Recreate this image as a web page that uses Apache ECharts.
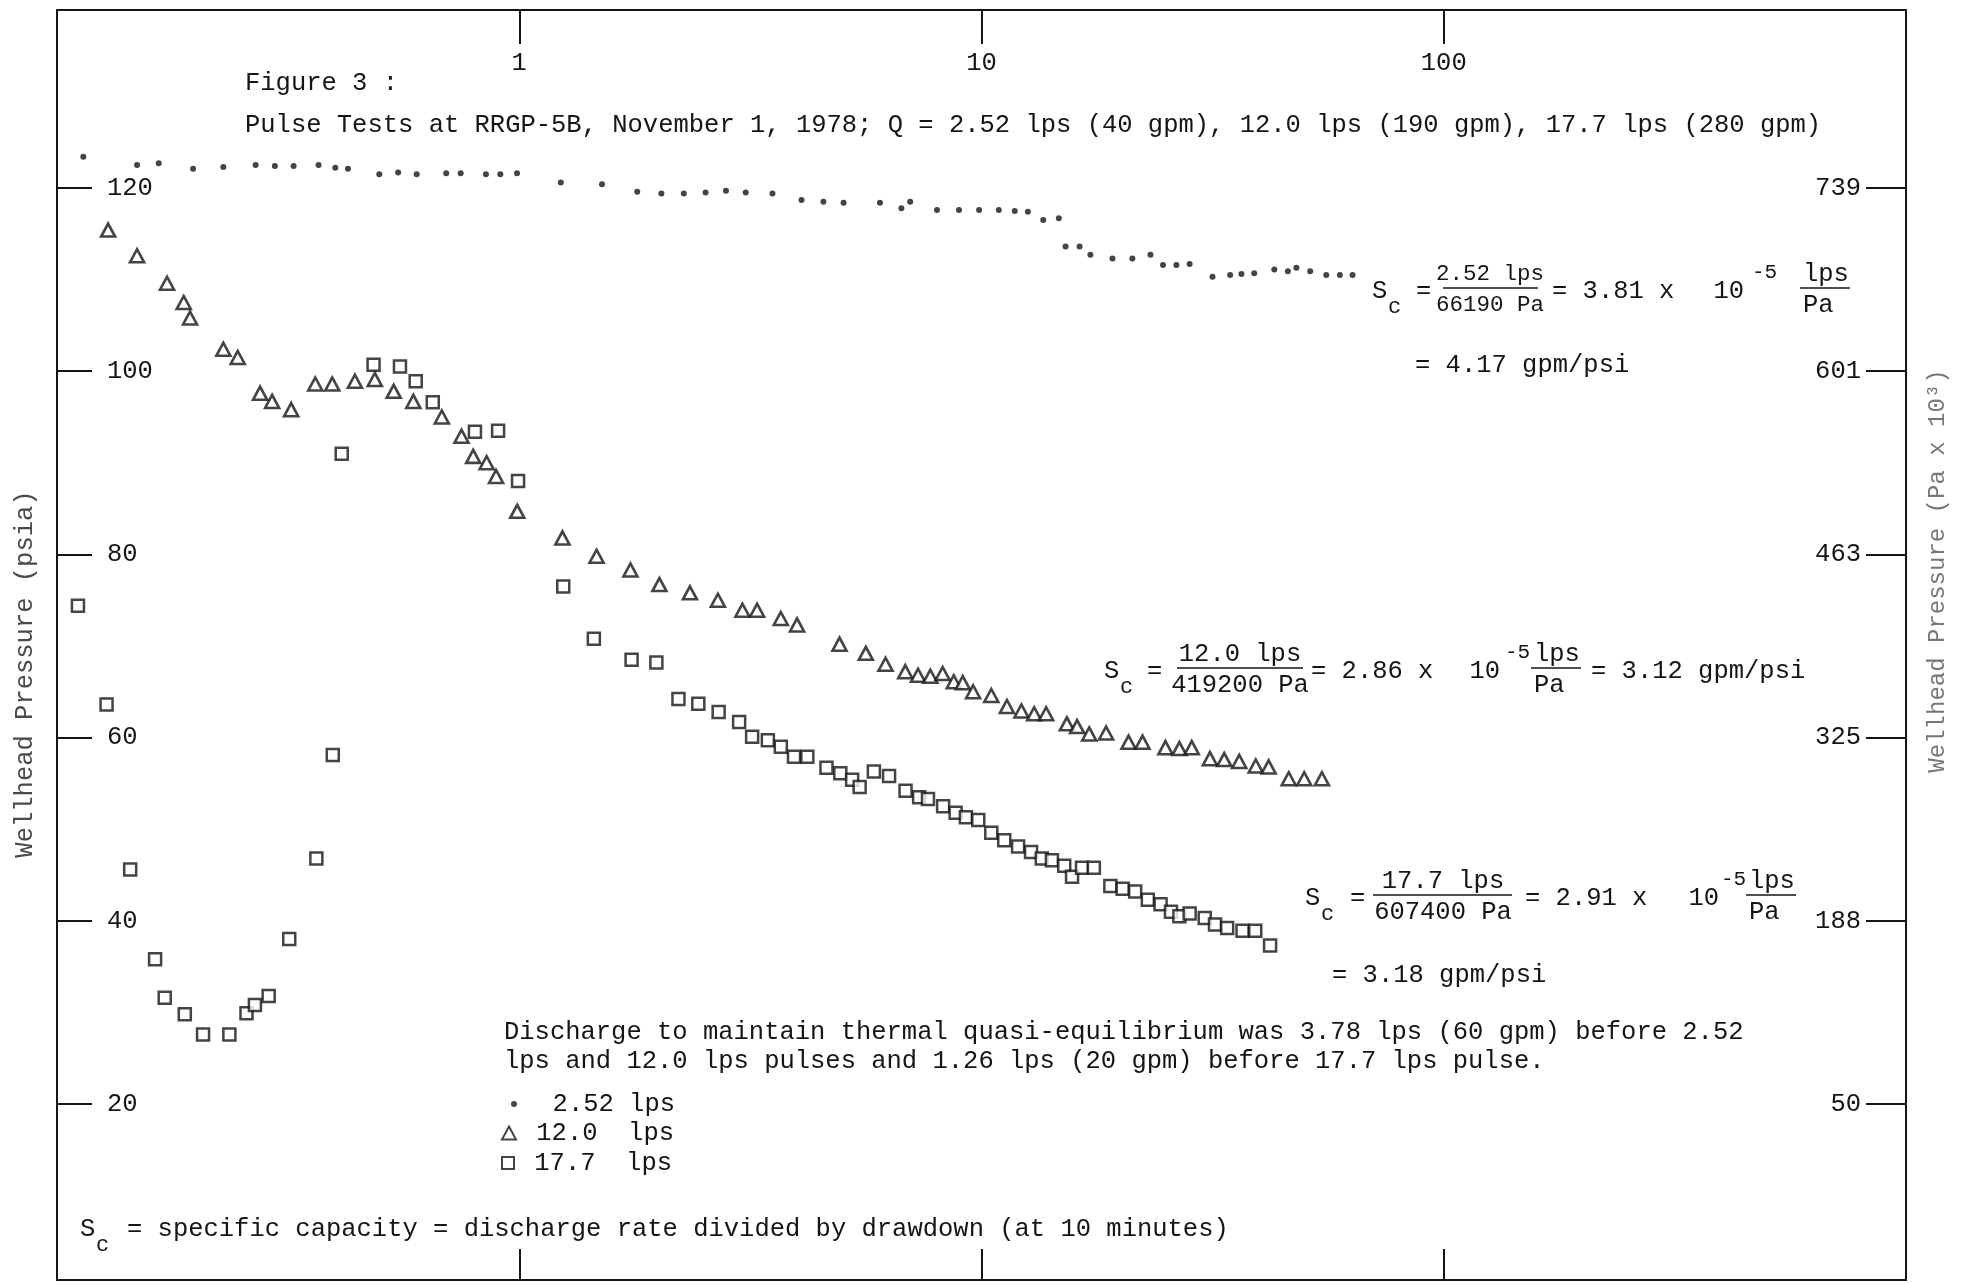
<!DOCTYPE html>
<html>
<head>
<meta charset="utf-8">
<script src="https://cdn.jsdelivr.net/npm/echarts@6/dist/echarts.min.js"></script>
<style>
  html, body { margin: 0; padding: 0; background: #ffffff; }
  #chart { width: 1967px; height: 1285px; }
</style>
</head>
<body>
<div id="chart"></div>
<script>
// Elapsed time (minutes) and wellhead pressure (psia) for each discharge pulse
const dotTime = [0.114, 0.149, 0.166, 0.197, 0.229, 0.269, 0.296, 0.325, 0.368, 0.400,
  0.426, 0.498, 0.547, 0.600, 0.695, 0.747, 0.847, 0.910, 0.989, 1.23,
  1.51, 1.80, 2.03, 2.27, 2.53, 2.80, 3.09, 3.53, 4.08, 4.55,
  5.03, 6.03, 6.71, 7.01, 8.01, 8.94, 9.88, 10.9, 11.8, 12.6,
  13.6, 14.7, 15.2, 16.3, 17.2, 19.2, 21.2, 23.2, 24.7, 26.4,
  28.2, 31.6, 34.5, 36.5, 38.9, 43.0, 46.0, 48.0, 51.4, 55.7, 59.6, 63.5];
const dotPsia = [123.4, 122.5, 122.7, 122.1, 122.3, 122.5, 122.4, 122.4, 122.5, 122.2,
  122.1, 121.5, 121.7, 121.5, 121.6, 121.6, 121.5, 121.5, 121.6, 120.6,
  120.4, 119.6, 119.4, 119.4, 119.5, 119.7, 119.5, 119.4, 118.7, 118.5,
  118.4, 118.4, 117.8, 118.5, 117.6, 117.6, 117.6, 117.6, 117.5, 117.4,
  116.5, 116.7, 113.6, 113.6, 112.7, 112.3, 112.3, 112.7, 111.6, 111.6,
  111.7, 110.3, 110.5, 110.6, 110.7, 111.1, 110.9, 111.3, 110.9, 110.5, 110.5, 110.5];

const triTime = [0.129, 0.149, 0.173, 0.188, 0.194, 0.229, 0.246, 0.275, 0.292, 0.321,
  0.362, 0.394, 0.441, 0.487, 0.535, 0.590, 0.680, 0.750, 0.795, 0.850,
  0.891, 0.990, 1.24, 1.47, 1.74, 2.01, 2.34, 2.69, 3.04, 3.27,
  3.68, 3.99, 4.93, 5.62, 6.20, 6.84, 7.29, 7.75, 8.24, 8.71,
  9.11, 9.59, 10.5, 11.35, 12.2, 13.0, 13.8, 15.3, 16.1, 17.1,
  18.6, 20.8, 22.3, 25.0, 26.8, 28.5, 31.2, 33.5, 36.1, 39.2,
  41.8, 46.2, 49.9, 54.5];
const triPsia = [115.4, 112.6, 109.6, 107.5, 105.8, 102.4, 101.5, 97.6, 96.7, 95.8,
  98.6, 98.6, 98.9, 99.1, 97.8, 96.7, 95.0, 92.9, 90.7, 90.0,
  88.5, 84.7, 81.8, 79.8, 78.3, 76.7, 75.8, 75.0, 73.9, 73.9,
  73.0, 72.3, 70.2, 69.2, 68.0, 67.2, 66.8, 66.7, 67.0, 66.1,
  66.0, 65.0, 64.6, 63.4, 62.9, 62.6, 62.6, 61.5, 61.2, 60.4,
  60.5, 59.5, 59.5, 58.9, 58.8, 58.9, 57.7, 57.6, 57.4, 56.9,
  56.8, 55.5, 55.5, 55.5];

const sqTime = [0.111, 0.128, 0.144, 0.163, 0.171, 0.189, 0.207, 0.236, 0.257, 0.268,
  0.287, 0.318, 0.364, 0.395, 0.413, 0.484, 0.552, 0.597, 0.650, 0.802,
  0.900, 0.994, 1.245, 1.45, 1.75, 1.98, 2.21, 2.44, 2.70, 2.99,
  3.19, 3.45, 3.68, 3.93, 4.20, 4.62, 4.95, 5.25, 5.45, 5.85,
  6.31, 6.85, 7.33, 7.66, 8.26, 8.79, 9.25, 9.84, 10.5, 11.2,
  12.0, 12.8, 13.5, 14.2, 15.1, 15.7, 16.5, 17.5, 19.0, 20.2,
  21.5, 22.9, 24.4, 25.7, 26.8, 28.2, 30.4, 32.0, 34.0, 36.7,
  39.1, 42.1];
const sqPsia = [74.4, 63.6, 45.6, 35.8, 31.6, 29.8, 27.6, 27.6, 29.9, 30.8,
  31.8, 38.0, 46.8, 58.1, 91.0, 100.7, 100.5, 98.9, 96.6, 93.4,
  93.5, 88.0, 76.5, 70.8, 68.5, 68.2, 64.2, 63.7, 62.8, 61.7,
  60.1, 59.7, 59.0, 57.9, 57.9, 56.7, 56.1, 55.4, 54.6, 56.3,
  55.8, 54.2, 53.5, 53.3, 52.5, 51.8, 51.3, 51.0, 49.6, 48.8,
  48.1, 47.5, 46.8, 46.6, 46.0, 44.8, 45.8, 45.8, 43.8, 43.5,
  43.2, 42.3, 41.8, 41.0, 40.5, 40.8, 40.3, 39.6, 39.2, 38.9,
  38.9, 37.3];

const seriesNames = ['2.52 lps', '12.0 lps', '17.7 lps'];
const legendLabels = ['  2.52 lps', ' 12.0  lps', ' 17.7  lps'];
const timeTicks = [1, 10, 100];
const psiaTicks = [20, 40, 60, 80, 100, 120];
const paTickLabels = ['50', '188', '325', '463', '601', '739'];

const INK = '#151515';
const FAMILY = '"Liberation Mono", "DejaVu Sans Mono", monospace';
const FS = 25.5;

const zip = (xs, ys) => xs.map((x, i) => [x, ys[i]]);

// small helpers for the annotation text and fraction bars
function txt(x, y, s, o) {
  o = o || {};
  return {
    type: 'text', x: x, y: y, rotation: o.rot || 0, silent: true, z: 10,
    style: {
      text: s,
      font: (o.size || FS) + 'px ' + FAMILY,
      fill: o.fill || INK,
      align: o.align || 'left',
      verticalAlign: 'middle'
    }
  };
}
function rule(x1, x2, y) {
  return { type: 'line', silent: true, z: 10,
    shape: { x1: x1, y1: y, x2: x2, y2: y },
    style: { stroke: INK, lineWidth: 1.6 } };
}
// S_c = num/den = k x 10^-5 lps/Pa
function equation(e) {
  const fs = e.fs || FS;
  return [
    txt(e.sx, e.y, 'S'),
    txt(e.sx + 16, e.y + 16, 'c', { size: 22 }),
    txt(e.eqx, e.y, '='),
    txt(e.fc, e.y - 17, e.num, { align: 'center', size: fs }),
    rule(e.f1, e.f2, e.y - 3),
    txt(e.fc, e.y + 14, e.den, { align: 'center', size: fs }),
    txt(e.kx, e.y, e.k),
    txt(e.tx, e.y, '10', { align: 'right' }),
    txt(e.px, e.y - 19, '-5', { size: 21 }),
    txt(e.ux, e.y - 17, 'lps'),
    rule(e.ux - 3, e.ux + 47, e.y - 3),
    txt(e.ux, e.y + 14, 'Pa')
  ];
}

const graphics = [].concat(
  [
    txt(245, 83, 'Figure 3 :'),
    txt(245, 125, 'Pulse Tests at RRGP-5B, November 1, 1978; Q = 2.52 lps (40 gpm), 12.0 lps (190 gpm), 17.7 lps (280 gpm)'),
    txt(25, 674, 'Wellhead Pressure (psia)', { rot: Math.PI / 2, align: 'center', fill: '#4a4a4a' }),
    txt(1938, 571, 'Wellhead Pressure (Pa x 10\u00b3)', { rot: Math.PI / 2, align: 'center', fill: '#777777', size: 24 }),
    txt(1415, 365, '= 4.17 gpm/psi'),
    txt(1591, 671, '= 3.12 gpm/psi'),
    txt(1332, 975, '= 3.18 gpm/psi'),
    txt(504, 1032, 'Discharge to maintain thermal quasi-equilibrium was 3.78 lps (60 gpm) before 2.52'),
    txt(504, 1061, 'lps and 12.0 lps pulses and 1.26 lps (20 gpm) before 17.7 lps pulse.'),
    txt(80, 1229, 'S'),
    txt(96, 1245, 'c', { size: 22 }),
    txt(127, 1229, '= specific capacity = discharge rate divided by drawdown (at 10 minutes)')
  ],
  equation({ sx: 1372, y: 291, eqx: 1416, fc: 1490, f1: 1443, f2: 1538, num: '2.52 lps', den: '66190 Pa',
    fs: 22.5, kx: 1552, k: '= 3.81 x', tx: 1744, px: 1752, ux: 1803 }),
  equation({ sx: 1104, y: 671, eqx: 1147, fc: 1240, f1: 1177, f2: 1303, num: '12.0 lps', den: '419200 Pa',
    kx: 1311, k: '= 2.86 x', tx: 1500, px: 1505, ux: 1534 }),
  equation({ sx: 1305, y: 898, eqx: 1350, fc: 1443, f1: 1373, f2: 1512, num: '17.7 lps', den: '607400 Pa',
    kx: 1525, k: '= 2.91 x', tx: 1719, px: 1721, ux: 1749 })
);

const axisLine = { show: true, lineStyle: { color: INK, width: 2 } };
const tickStyle = { color: INK, width: 2 };
const labelFont = { color: INK, fontFamily: FAMILY, fontSize: FS };

// y range chosen so that 20..120 psia land on the drawn tick marks
const Y_MIN = 0.786, Y_MAX = 139.43;

function legendFor(i, top, size) {
  return {
    data: [seriesNames[i]], orient: 'vertical', left: i === 0 ? 511 : 501, top: top,
    padding: 0, itemGap: 0, itemWidth: size[0], itemHeight: size[1],
    selectedMode: false, textStyle: labelFont,
    formatter: () => legendLabels[i]
  };
}

const chart = echarts.init(document.getElementById('chart'), null, { renderer: 'canvas' });
chart.setOption({
  animation: false,
  backgroundColor: '#ffffff',
  grid: { left: 57, top: 10, width: 1849, height: 1270, show: false },
  legend: [
    legendFor(0, 1091, [6, 6]),
    legendFor(1, 1120, [14, 13]),
    legendFor(2, 1150, [12, 12])
  ],
  xAxis: [
    {
      type: 'log', position: 'top', min: 0.1, max: 1000, logBase: 10,
      axisLine: axisLine,
      axisTick: { show: true, inside: true, length: 34, lineStyle: tickStyle },
      minorTick: { show: false }, splitLine: { show: false },
      axisLabel: Object.assign({
        inside: true, margin: 40,
        formatter: v => {
          const hit = timeTicks.find(t => Math.abs(t - v) < 1e-6 * t);
          return hit ? String(hit) : '';
        }
      }, labelFont)
    },
    {
      type: 'log', position: 'bottom', min: 0.1, max: 1000, logBase: 10,
      axisLine: axisLine,
      axisTick: { show: true, inside: true, length: 31, lineStyle: tickStyle },
      minorTick: { show: false }, splitLine: { show: false },
      axisLabel: { show: false }
    }
  ],
  yAxis: [
    {
      type: 'value', position: 'left', min: Y_MIN, max: Y_MAX,
      axisLine: axisLine, splitLine: { show: false },
      axisTick: { show: true, inside: true, length: 35, lineStyle: tickStyle, customValues: psiaTicks },
      axisLabel: Object.assign({ inside: true, margin: 50, customValues: psiaTicks,
        formatter: v => String(Math.round(v)) }, labelFont)
    },
    {
      type: 'value', position: 'right', min: Y_MIN, max: Y_MAX,
      axisLine: axisLine, splitLine: { show: false },
      axisTick: { show: true, inside: true, length: 40, lineStyle: tickStyle, customValues: psiaTicks },
      axisLabel: Object.assign({ inside: true, margin: 45, customValues: psiaTicks,
        formatter: v => paTickLabels[psiaTicks.indexOf(Math.round(v))] || '' }, labelFont)
    }
  ],
  series: [
    {
      name: seriesNames[0], type: 'scatter', xAxisIndex: 0, yAxisIndex: 0,
      data: zip(dotTime, dotPsia), symbol: 'circle', symbolSize: 6,
      itemStyle: { color: INK }, silent: true, z: 4
    },
    {
      name: seriesNames[1], type: 'scatter', xAxisIndex: 0, yAxisIndex: 0,
      data: zip(triTime, triPsia), symbol: 'triangle', symbolSize: [14, 13],
      itemStyle: { color: '#ffffff', borderColor: INK, borderWidth: 2.6 }, silent: true, z: 3
    },
    {
      name: seriesNames[2], type: 'scatter', xAxisIndex: 0, yAxisIndex: 0,
      data: zip(sqTime, sqPsia), symbol: 'rect', symbolSize: [12, 12],
      itemStyle: { color: '#ffffff', borderColor: INK, borderWidth: 2.5 }, silent: true, z: 2
    }
  ],
  graphic: graphics
});
</script>
</body>
</html>
